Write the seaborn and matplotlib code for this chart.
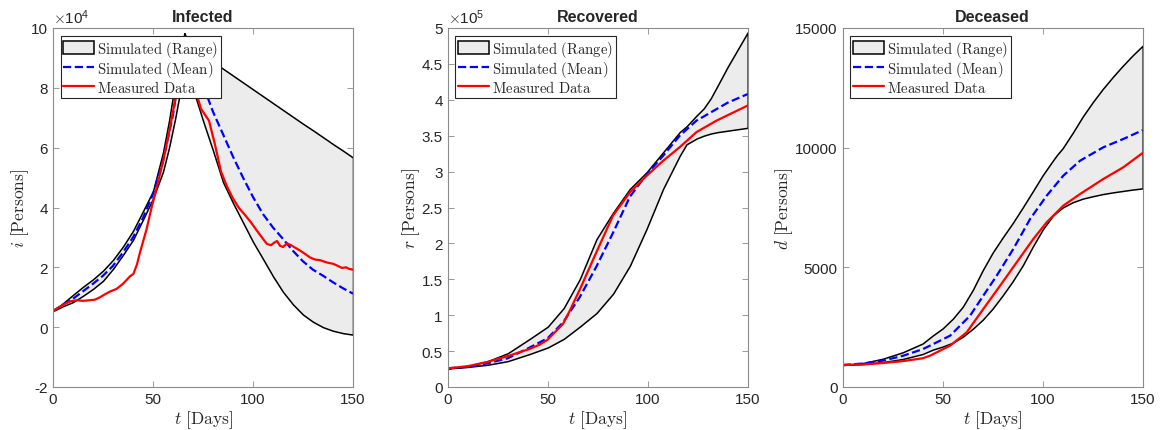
import matplotlib
matplotlib.use("Agg")
import matplotlib.pyplot as plt
from matplotlib.ticker import FuncFormatter, MultipleLocator
import seaborn as sns

# ---- Infected (persons) ---------------------------------------------------
INF_DAYS = [0, 5, 10, 15, 20, 25, 30, 35, 40, 45, 50, 55, 58, 61, 63.5, 65.7,
            68, 71, 75, 80, 85, 90, 95, 100, 105, 110, 115, 120, 125, 130, 135,
            140, 145, 150]
INF_UPPER = [0.54, 0.80, 1.08, 1.35, 1.60, 1.89, 2.25, 2.70, 3.22, 3.88, 4.55,
             5.85, 6.90, 8.15, 9.20, 9.82, 9.50, 9.30, 9.10, 8.87, 8.64, 8.41,
             8.18, 7.95, 7.72, 7.49, 7.26, 7.03, 6.80, 6.58, 6.35, 6.12, 5.90,
             5.67]
INF_LOWER = [0.54, 0.70, 0.84, 1.05, 1.28, 1.55, 1.95, 2.42, 2.92, 3.60, 4.30,
             5.20, 6.00, 6.95, 7.85, 9.82, 9.00, 7.75, 6.90, 5.90, 4.85, 4.15,
             3.50, 2.85, 2.28, 1.70, 1.18, 0.76, 0.42, 0.18, 0.00, -0.12,
             -0.20, -0.25]
INF_MEAN_DAYS = [0, 5, 10, 15, 20, 25, 30, 35, 40, 45, 50, 55, 60, 63, 66, 70,
                 75, 80, 85, 90, 95, 100, 105, 110, 115, 120, 125, 130, 135,
                 140, 145, 150]
INF_MEAN = [0.54, 0.75, 0.95, 1.20, 1.45, 1.72, 2.05, 2.50, 3.00, 3.65, 4.45,
            5.55, 7.10, 8.40, 9.60, 8.90, 8.10, 7.20, 6.45, 5.70, 5.00, 4.35,
            3.78, 3.33, 2.95, 2.55, 2.20, 1.92, 1.72, 1.50, 1.30, 1.12]
INF_DATA_DAYS = [0, 3, 6, 8.5, 11.8, 15, 18.5, 21, 23.5, 26, 28.5, 31.8, 35,
                 38.5, 40.2, 42, 43.5, 45, 46.8, 49.3, 52, 55.3, 58, 61.8, 64,
                 66, 69, 72, 74, 76, 78, 81, 84, 87, 90, 93, 96, 99, 102, 105,
                 107, 109, 110.5, 112, 113.5, 115, 117, 119, 121, 123.5, 126,
                 128.5, 131, 133.5, 137, 140, 142, 144.5, 146.5, 148, 150]
INF_DATA = [0.54, 0.66, 0.78, 0.86, 0.90, 0.88, 0.90, 0.92, 1.00, 1.10, 1.19,
            1.28, 1.45, 1.70, 1.78, 2.10, 2.50, 2.85, 3.28, 4.00, 4.70, 5.62,
            6.50, 7.85, 8.90, 9.70, 9.00, 7.75, 7.30, 7.10, 6.90, 6.10, 5.20,
            4.70, 4.30, 3.98, 3.75, 3.50, 3.22, 2.95, 2.78, 2.74, 2.82, 2.88,
            2.72, 2.68, 2.80, 2.74, 2.66, 2.56, 2.45, 2.33, 2.26, 2.24, 2.16,
            2.12, 2.06, 1.98, 2.00, 1.95, 1.92]

# ---- Recovered (persons) --------------------------------------------------
REC_DAYS = [0, 10, 20, 30, 41, 50, 58, 66, 74.4, 82.7, 91.1, 99.4, 107.7, 116,
            119.4, 124.4, 128, 131.5, 135, 140, 145, 150]
REC_UPPER = [0.26, 0.29, 0.36, 0.47, 0.67, 0.84, 1.10, 1.50, 2.06, 2.43, 2.76,
             2.99, 3.27, 3.55, 3.63, 3.78, 3.88, 4.02, 4.20, 4.46, 4.70, 4.94]
REC_LOWER = [0.26, 0.28, 0.31, 0.36, 0.46, 0.55, 0.67, 0.84, 1.03, 1.30, 1.69,
             2.20, 2.76, 3.22, 3.38, 3.46, 3.50, 3.53, 3.55, 3.57, 3.59, 3.61]
REC_MEAN_DAYS = [0, 10, 20, 30, 41, 50, 57.7, 66, 74.4, 82.7, 91.1, 99.4, 107.7,
                 116, 124.4, 134.4, 140, 150]
REC_MEAN = [0.26, 0.28, 0.33, 0.40, 0.55, 0.68, 0.90, 1.25, 1.68, 2.15, 2.65,
            2.96, 3.22, 3.50, 3.71, 3.87, 3.96, 4.08]
REC_DATA_DAYS = [0, 10, 20, 30, 41, 46, 50, 57.7, 61, 66.1, 74.4, 82.7, 91.1,
                 99.4, 107.7, 116, 124.4, 134.4, 150]
REC_DATA = [0.26, 0.29, 0.35, 0.43, 0.53, 0.59, 0.66, 0.88, 1.06, 1.36, 1.88,
            2.39, 2.71, 2.94, 3.15, 3.34, 3.55, 3.71, 3.92]

# ---- Deceased (persons) ---------------------------------------------------
DEC_DAYS = [0, 10, 20, 30, 40, 45, 50, 55, 60, 65, 70, 75, 80, 85, 90, 95, 100,
            105, 107, 110, 115, 120, 125, 130, 135, 140, 145, 150]
DEC_UPPER = [920, 1000, 1180, 1450, 1820, 2150, 2450, 2850, 3350, 4050, 4880,
             5620, 6250, 6850, 7500, 8170, 8850, 9450, 9680, 9980, 10620,
             11300, 11900, 12450, 12950, 13420, 13860, 14262]
DEC_LOWER = [920, 960, 1040, 1170, 1380, 1560, 1690, 1850, 2100, 2430, 2810,
             3280, 3830, 4420, 5080, 5860, 6580, 7150, 7299, 7500, 7720, 7870,
             7970, 8060, 8130, 8190, 8250, 8300]
DEC_MEAN_DAYS = [0, 10, 20, 30, 40, 43.65, 53.7, 63.7, 70.3, 77, 85.3, 93.7,
                 102, 110.3, 118.7, 130.3, 140.3, 150]
DEC_MEAN = [920, 980, 1100, 1300, 1580, 1727, 2144, 2980, 3816, 4651, 5766,
            7019, 7994, 8830, 9456, 10015, 10362, 10730]
DEC_DATA_DAYS = [0, 10, 20, 30, 40, 43.65, 53.7, 62, 70.3, 78.7, 87, 95.3, 102,
                 110.3, 118.7, 130.3, 140.3, 150]
DEC_DATA = [920, 940, 1000, 1080, 1200, 1309, 1727, 2284, 3259, 4233, 5210,
            6184, 6882, 7576, 8064, 8691, 9179, 9780]

sns.set_style("ticks")
plt.rcParams.update({
    "font.family": ["Liberation Sans", "DejaVu Sans"],
    "mathtext.fontset": "cm",
    "axes.unicode_minus": False,
    "xtick.direction": "in", "ytick.direction": "in",
    "xtick.top": True, "ytick.right": True,
    "xtick.major.size": 4, "ytick.major.size": 4,
    "xtick.major.width": 0.6, "ytick.major.width": 0.6,
    "xtick.color": "#8a8a8a", "ytick.color": "#8a8a8a",
    "xtick.labelcolor": "#262626", "ytick.labelcolor": "#262626",
    "xtick.labelsize": 11, "ytick.labelsize": 11,
    "axes.edgecolor": "#8a8a8a", "axes.linewidth": 0.8,
})

FILL = "#ececec"
BLUE = "#0000ff"
RED = "#ff0000"

fig = plt.figure(figsize=(11.65, 4.31), dpi=100)
lefts = [53 / 1165, 447.7 / 1165, 842.7 / 1165]
panels = [
    ("Infected", "i", INF_DAYS, INF_UPPER, INF_LOWER, INF_MEAN_DAYS, INF_MEAN,
     INF_DATA_DAYS, INF_DATA, 1e4, (-2e4, 10e4), 2e4, "4"),
    ("Recovered", "r", REC_DAYS, REC_UPPER, REC_LOWER, REC_MEAN_DAYS, REC_MEAN,
     REC_DATA_DAYS, REC_DATA, 1e5, (0, 5e5), 0.5e5, "5"),
    ("Deceased", "d", DEC_DAYS, DEC_UPPER, DEC_LOWER, DEC_MEAN_DAYS, DEC_MEAN,
     DEC_DATA_DAYS, DEC_DATA, 1, (0, 15000), 5000, None),
]

for left, (title, sym, days, up, lo, mdays, mean, ddays, data, scale, ylim,
           ystep, expo) in zip(lefts, panels):
    ax = fig.add_axes([left, 43 / 431, 300 / 1165, 359 / 431])
    up_v = [v * scale for v in up]
    lo_v = [v * scale for v in lo]
    ax.fill_between(days, lo_v, up_v, facecolor=FILL, edgecolor="black",
                    linewidth=1.1, label=r"$\mathrm{Simulated\ (Range)}$")
    sns.lineplot(x=mdays, y=[v * scale for v in mean], ax=ax, color=BLUE,
                 linestyle="--", linewidth=1.6, sort=False,
                 label=r"$\mathrm{Simulated\ (Mean)}$")
    sns.lineplot(x=ddays, y=[v * scale for v in data], ax=ax, color=RED,
                 linewidth=1.6, sort=False, label=r"$\mathrm{Measured\ Data}$")
    ax.set_xlim(0, 150)
    ax.set_ylim(*ylim)
    ax.xaxis.set_major_locator(MultipleLocator(50))
    ax.yaxis.set_major_locator(MultipleLocator(ystep))
    ax.yaxis.set_major_formatter(FuncFormatter(lambda v, p, s=scale: f"{v / s:g}"))
    if expo:
        ax.text(0.0, 1.005, r"$\times\mathdefault{10^{" + expo + "}}$",
                transform=ax.transAxes, ha="left", va="bottom",
                fontsize=11, color="#262626")
    ax.set_title(title, fontsize=11.5, fontweight="bold", pad=5)
    ax.set_xlabel(r"$t\ \mathrm{[Days]}$", fontsize=12.5, color="#262626",
                  labelpad=2)
    ax.set_ylabel(r"$" + sym + r"\ \mathrm{[Persons]}$", fontsize=12.5,
                  color="#262626", labelpad=0)
    handles, labels = ax.get_legend_handles_labels()
    leg = ax.legend(handles, labels, loc="upper left",
                    bbox_to_anchor=(7.5 / 300, 1 - 7.7 / 359), borderaxespad=0,
                    fontsize=10.6, frameon=True, fancybox=False, framealpha=1,
                    edgecolor="#262626", handlelength=2.1, handleheight=0.9,
                    handletextpad=0.2, labelspacing=0.0, borderpad=0.2)
    leg.get_frame().set_linewidth(0.8)
    sns.despine(ax=ax, top=False, right=False)

fig.savefig("out.png", dpi=100)
